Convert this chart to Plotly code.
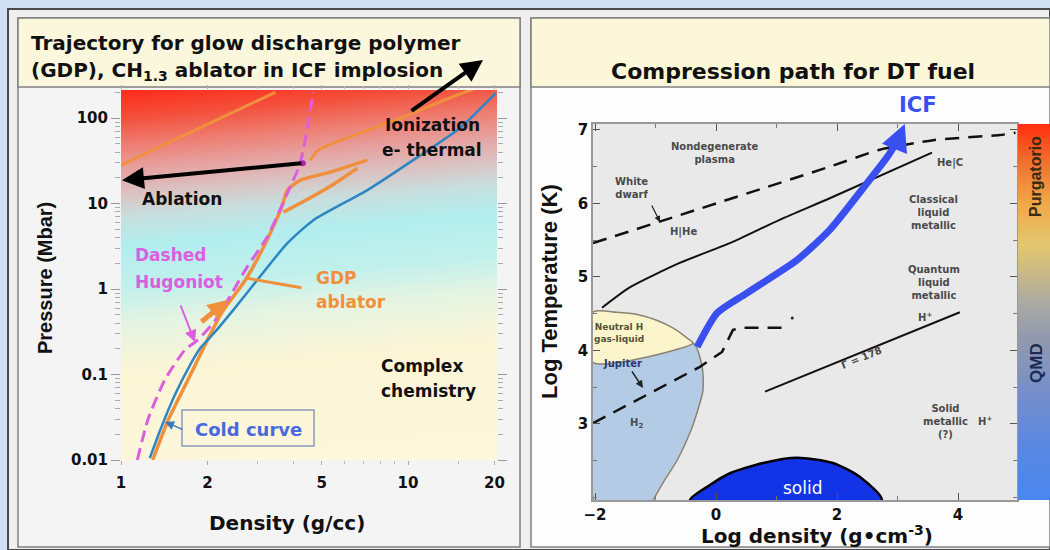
import numpy as np
import plotly.graph_objects as go

W, H = 1050, 550
def px(x): return x / W
def py(y): return 1 - y / H

# ---------------- Left panel data: density (g/cc), pressure (Mbar) ----------------
cold_density = [1.26, 1.37, 1.54, 1.74, 1.89, 2.08, 2.46, 2.98, 3.80, 4.68, 7.22, 10.8, 15.3, 20.2]
cold_pressure = [0.0105, 0.0224, 0.0575, 0.129, 0.204, 0.29, 0.568, 1.27, 3.45, 6.4, 14.4, 35, 78.5, 196]

hugoniot_density = [1.14, 1.24, 1.42, 1.67, 1.84, 2.13, 2.75, 3.23, 3.80, 4.21, 4.68]
hugoniot_pressure = [0.01, 0.0294, 0.0863, 0.194, 0.25, 0.43, 1.81, 4.06, 13.3, 29.8, 201]

gdp_density = [1.29, 1.46, 1.71, 1.96, 2.25, 2.71, 3.10, 3.45, 3.65, 3.80, 4.21, 5.36, 7.22]
gdp_pressure = [0.01, 0.0294, 0.0863, 0.221, 0.538, 1.27, 2.86, 6.08, 9.6, 14.4, 18.8, 23.4, 32.3]
gdp_branch_density = [3.68, 4.21, 5.36, 6.66]
gdp_branch_pressure = [7.96, 10.1, 16.0, 26.0]

ion_left_density = [1.0, 3.45]
ion_left_pressure = [28.2, 201]
ion_right_density = [4.57, 4.87, 9.42, 13.3, 17.2]
ion_right_pressure = [32.3, 42.3, 100, 162, 224]

ablation_point = (4.3, 29.8)      # density, pressure
ablation_tip = (1.008, 18.8)

density_ticks = [1, 2, 5, 10, 20]
pressure_ticks = [0.01, 0.1, 1, 10, 100]
pressure_tick_text = ["0.01", "0.1", "1", "10", "100"]

# ---------------- Right panel data: log density, log temperature ----------------
h2_logrho = [-2.033, -2.033, -0.38, -0.23, -0.215, -0.30, -0.43, -0.64, -0.876, -1.04]
h2_logT = [1.966, 3.84, 4.10, 3.78, 3.46, 3.19, 2.88, 2.51, 2.20, 1.966]

neutral_logrho = [-2.033, -2.033, -1.64, -1.30, -0.98, -0.70, -0.48, -0.38, -2.033]
neutral_logT = [3.84, 4.52, 4.52, 4.49, 4.41, 4.30, 4.17, 4.10, 3.84]

solid_logrho = [-0.43, -0.10, 0.23, 0.78, 1.34, 1.93, 2.38, 2.74, -0.43]
solid_logT = [1.966, 2.17, 2.33, 2.47, 2.54, 2.47, 2.28, 1.966, 1.966]

hhe_line_logrho = [-1.884, -1.42, -0.60, 0.23, 1.06, 1.88, 3.57]
hhe_line_logT = [4.58, 4.86, 5.19, 5.46, 5.78, 6.07, 6.69]

upper_dash_logrho = [-2.033, 1.88, 2.71, 3.59, 4.69, 4.95]
upper_dash_logT = [5.46, 6.50, 6.73, 6.86, 6.93, 6.96]

lower_dash_logrho = [-2.033, -0.26, 0.10, 0.28, 0.45, 1.20]
lower_dash_logT = [3.01, 3.78, 3.98, 4.28, 4.31, 4.31]
lower_dash_dot = (1.26, 4.44)

gamma_logrho = [0.81, 4.03]
gamma_logT = [3.44, 4.52]

icf_logrho = [-0.31, 0.02, 0.51, 1.34, 1.88, 2.50, 2.83, 3.02]
icf_logT = [4.05, 4.51, 4.78, 5.23, 5.64, 6.28, 6.63, 6.88]
icf_tip = (3.12, 7.08)

FONT_H = "DejaVu Sans, Verdana, sans-serif"          # horizontal text (wide)
FONT_V = "Liberation Sans, Arial, sans-serif"        # vertical text
ORANGE = "#f0903c"
PINK = "#dc5ee0"
BLUE_COLD = "#2c86c4"
ICF_BLUE = "#3a4ff0"

fig = go.Figure()

# ---- left gradient background (decorative) ----
lx = np.linspace(0, 1.31, 40)
ly = np.linspace(-2, 2.33, 140)
Z = ly[:, None] - 0.3 * lx[None, :]
stops = [(-2.4, '#fdf7dc'), (-1.0, '#fcf5d6'), (-0.4, '#e4f4e2'), (0.0, '#c2f0ec'),
         (0.5, '#b2eeee'), (0.85, '#c8dede'), (1.1, '#dac4c4'), (1.4, '#e6a2a0'),
         (1.7, '#ee7c70'), (2.0, '#f4503c'), (2.4, '#fe2410')]
zmin, zmax = -2.4, 2.4
cs = [[(v - zmin) / (zmax - zmin), c] for v, c in stops]
fig.add_trace(go.Heatmap(x=lx, y=ly, z=Z, colorscale=cs, zmin=zmin, zmax=zmax,
                         showscale=False, zsmooth='best', hoverinfo='skip',
                         xaxis='x', yaxis='y'))

def lline(xs, ys, color, width, dash='solid'):
    fig.add_trace(go.Scatter(x=xs, y=ys, mode='lines', xaxis='x2', yaxis='y2',
                             line=dict(color=color, width=width, dash=dash, shape='spline', smoothing=0.6),
                             showlegend=False, hoverinfo='skip'))

lline(ion_left_density, ion_left_pressure, ORANGE, 3)
lline(ion_right_density, ion_right_pressure, ORANGE, 3)
lline(gdp_branch_density, gdp_branch_pressure, ORANGE, 3.5)
lline(gdp_density, gdp_pressure, ORANGE, 3.5)
lline(cold_density, cold_pressure, BLUE_COLD, 2.5)
lline(hugoniot_density, hugoniot_pressure, PINK, 3, dash='12px,6px')
fig.add_trace(go.Scatter(x=[ablation_point[0]], y=[ablation_point[1]], mode='markers',
                         xaxis='x2', yaxis='y2', marker=dict(color='#b020b0', size=6),
                         showlegend=False, hoverinfo='skip'))

# ---- right panel ----
def rfill(xs, ys, fill, line_color, lw):
    fig.add_trace(go.Scatter(x=xs, y=ys, mode='lines', fill='toself', fillcolor=fill,
                             xaxis='x3', yaxis='y3',
                             line=dict(color=line_color, width=lw, shape='spline', smoothing=0.7),
                             showlegend=False, hoverinfo='skip'))

rfill(h2_logrho, h2_logT, '#b4cbe6', '#8c8270', 1.5)
rfill(neutral_logrho, neutral_logT, '#fcf5cc', '#8c8270', 1.5)
rfill(solid_logrho, solid_logT, '#1234e6', '#000000', 2.5)

def rline(xs, ys, color, width, dash='solid', shape='spline'):
    fig.add_trace(go.Scatter(x=xs, y=ys, mode='lines', xaxis='x3', yaxis='y3',
                             line=dict(color=color, width=width, dash=dash, shape=shape, smoothing=0.6),
                             showlegend=False, hoverinfo='skip'))

rline(hhe_line_logrho, hhe_line_logT, '#111', 2)
rline(upper_dash_logrho, upper_dash_logT, '#111', 2.5, dash='14px,9px')
rline(lower_dash_logrho, lower_dash_logT, '#111', 2.5, dash='14px,9px', shape='linear')
rline(gamma_logrho, gamma_logT, '#111', 2)
fig.add_trace(go.Scatter(x=[lower_dash_dot[0]], y=[lower_dash_dot[1]], mode='markers',
                         xaxis='x3', yaxis='y3', marker=dict(color='#222', size=3),
                         showlegend=False, hoverinfo='skip'))
rline(icf_logrho, icf_logT, ICF_BLUE, 7)

# ---- colorbar heatmap ----
cy = np.linspace(0, 1, 80)
cz = np.repeat(cy[:, None], 2, axis=1)
cb_scale = [[0, '#4a86f0'], [0.15, '#5a88e0'], [0.3, '#7890c8'], [0.42, '#9098b0'],
            [0.52, '#a8a8a4'], [0.6, '#c8b888'], [0.68, '#e4c670'], [0.79, '#f0a848'],
            [0.9, '#f07030'], [1.0, '#ff3010']]
fig.add_trace(go.Heatmap(x=[0, 1], y=cy, z=cz, colorscale=cb_scale, showscale=False,
                         zsmooth='best', hoverinfo='skip', xaxis='x4', yaxis='y4'))

# ---------------- shapes ----------------
def prect(x0, y0, x1, y1, fill, line='#808080', lw=1.5, layer='below'):
    return dict(type='rect', xref='paper', yref='paper', x0=px(x0), x1=px(x1),
                y0=py(y1), y1=py(y0), fillcolor=fill, line=dict(color=line, width=lw), layer=layer)

shapes = [
    prect(8, 9, 1050, 550, '#efefef', '#4a4a4a', 2),
    prect(18, 18, 520, 547, '#f4f4f4'),
    prect(18, 18, 520, 87, '#fbf7dc'),
    prect(531, 18, 1050, 547, '#fdfdfd'),
    prect(531, 18, 1050, 87, '#fbf7d8'),
    prect(182, 410, 314, 446, 'rgba(0,0,0,0)', '#8a98b8', 1.5, layer='above'),
    dict(type='rect', xref='x3 domain', yref='y3 domain', x0=0, x1=1, y0=0, y1=1,
         fillcolor='#e9e9e9', line=dict(width=0), layer='below'),
]

# ---------------- annotations ----------------
ann = []
def txt(x, y, s, size, color='#111', xanchor='center', angle=0, xref='paper', yref='paper',
        bold=True, family=FONT_H):
    ann.append(dict(x=x, y=y, xref=xref, yref=yref, text=s, showarrow=False, xanchor=xanchor,
                    yanchor='middle', textangle=angle,
                    font=dict(family=family, size=size, color=color, weight='bold' if bold else 'normal')))

def arrow(x, y, ax, ay, color, width, head=2, size=1.0, xref='paper', yref='paper'):
    ann.append(dict(x=x, y=y, xref=xref, yref=yref, ax=ax, ay=ay, axref='pixel', ayref='pixel',
                    text='', showarrow=True, arrowhead=head, arrowsize=size,
                    arrowwidth=width, arrowcolor=color))

# left titles & labels
txt(px(29), py(43), "Trajectory for glow discharge polymer", 20, xanchor='left')
txt(px(29), py(71), "(GDP), CH<sub>1.3</sub> ablator in ICF implosion", 20, xanchor='left')
txt(px(432), py(125), "Ionization", 17)
txt(px(432), py(150), "e- thermal", 17)
txt(px(182), py(199), "Ablation", 17)
txt(px(133), py(255), "Dashed", 17, PINK, xanchor='left')
txt(px(133), py(282), "Hugoniot", 17, PINK, xanchor='left')
txt(px(314), py(278), "GDP", 17, ORANGE, xanchor='left')
txt(px(314), py(302), "ablator", 17, ORANGE, xanchor='left')
txt(px(379), py(366), "Complex", 17, xanchor='left')
txt(px(379), py(391), "chemistry", 17, xanchor='left')
txt(px(248), py(429), "Cold curve", 18, '#4a68e0')
txt(px(45), py(278), "Pressure (Mbar)", 20, angle=-90, family=FONT_V)
txt(px(287), py(523), "Density (g/cc)", 20)

# left arrows
ann.append(dict(x=np.log10(ablation_tip[0]), y=np.log10(ablation_tip[1]), xref='x2', yref='y2',
                ax=np.log10(ablation_point[0]), ay=np.log10(ablation_point[1]), axref='x2', ayref='y2',
                text='', showarrow=True, arrowhead=2, arrowsize=1.1, arrowwidth=4, arrowcolor='#000'))
arrow(px(483), py(60), -73, 52, '#000', 4, head=2, size=1.1)
arrow(px(195), py(342), -15, -38, PINK, 2, head=2, size=1.2)
arrow(px(246), py(278), 57, 10, ORANGE, 3, head=0)
arrow(px(228), py(300), -28, 23, ORANGE, 5, head=2, size=0.8)
arrow(px(165), py(422), 19, 8, '#3a7ac0', 1.5, head=2, size=1.2)

# right titles & labels
txt(px(793), py(72), "Compression path for DT fuel", 22)
txt(px(918), py(105), "ICF", 21, ICF_BLUE)
txt(px(549), py(292), "Log Temperature (K)", 22, angle=-90, family=FONT_V)
txt(px(817), py(535), "Log density (g•cm<sup>-3</sup>)", 20)
txt(px(1036), py(177), "Purgatorio", 16, '#3a2a10', angle=-90, family=FONT_V)
txt(px(1036), py(363), "QMD", 17, '#1a2a50', angle=-90, family=FONT_V)

small = '#4a4a4a'
for s, x, y in [("Nondegenerate<br>plasma", -0.017, 6.68), ("White<br>dwarf", -1.39, 6.21),
                ("H|He", -0.545, 5.61), ("He|C", 3.87, 6.55),
                ("Classical<br>liquid<br>metallic", 3.6, 5.87),
                ("Quantum<br>liquid<br>metallic", 3.6, 4.93), ("H<sup>+</sup>", 3.45, 4.46),
                ("Solid<br>metallic<br>(?)", 3.79, 3.04), ("H<sup>+</sup>", 4.45, 3.04),
                ("H<sub>2</sub>", -1.32, 3.0)]:
    txt(x, y, s, 10, small, xref='x3', yref='y3')
txt(-1.6, 4.24, "Neutral H<br>gas-liquid", 9, '#55503a', xref='x3', yref='y3')
txt(-1.55, 3.82, "Jupiter", 10, '#2a3a70', xref='x3', yref='y3')
txt(2.41, 3.91, "Γ = 178", 10, small, angle=-22, xref='x3', yref='y3')
txt(1.44, 2.13, "solid", 17, '#ffffff', xref='x3', yref='y3', bold=False)
arrow(px(660), py(222), -9, -18, '#222', 1.2, head=2)
arrow(px(643), py(388), -12, -18, '#222', 1.5, head=2)
ann.append(dict(x=icf_tip[0], y=icf_tip[1], xref='x3', yref='y3',
                ax=icf_logrho[-1], ay=icf_logT[-1], axref='x3', ayref='y3',
                text='', showarrow=True, arrowhead=2, arrowsize=0.9, arrowwidth=6, arrowcolor=ICF_BLUE))

tickfont = dict(family=FONT_H, size=15, color='#111', weight='bold')
L_dom_x = [px(121), px(497)]
L_dom_y = [py(460), py(90)]
R_dom_x = [px(593), px(1017)]
R_dom_y = [py(500), py(124)]

minor_p = [m * 10.0 ** e for e in range(-2, 3) for m in range(2, 10)]
minor_d = [3, 4, 6, 7, 8, 9, 15]

fig.update_layout(
    template='none',
    width=W, height=H, margin=dict(l=0, r=0, t=0, b=0, autoexpand=False),
    paper_bgcolor='#cfe0f2', plot_bgcolor='rgba(0,0,0,0)', showlegend=False,
    xaxis=dict(domain=L_dom_x, range=[0, 1.31], visible=False, fixedrange=True, automargin=False),
    yaxis=dict(domain=L_dom_y, range=[-2, 2.33], visible=False, fixedrange=True, automargin=False),
    xaxis2=dict(overlaying='x', type='log', range=[0, 1.31], anchor='y2', side='bottom',
                domain=L_dom_x, tickvals=density_ticks, ticktext=[str(v) for v in density_ticks],
                ticks='outside', ticklen=4, tickcolor='#aaa', mirror='ticks', showline=False,
                showgrid=False, zeroline=False, tickfont=tickfont, ticklabelstandoff=5, automargin=False,
                minor=dict(tickvals=minor_d, ticks='outside', ticklen=3, tickcolor='#bbb', showgrid=False)),
    yaxis2=dict(overlaying='y', type='log', range=[-2, 2.33], anchor='x2', side='left',
                domain=L_dom_y, tickvals=pressure_ticks, ticktext=pressure_tick_text,
                ticks='outside', ticklen=9, tickcolor='#999', mirror='ticks', showline=False,
                showgrid=False, zeroline=False, tickfont=tickfont, automargin=False,
                minor=dict(tickvals=minor_p, ticks='outside', ticklen=5, tickcolor='#aaa', showgrid=False)),
    xaxis3=dict(domain=R_dom_x, range=[-2.033, 4.975], anchor='y3', tickvals=[-2, 0, 2, 4],
                ticks='inside', ticklen=7, tickcolor='#555', showline=True, linecolor='#999',
                linewidth=1.5, mirror='ticks', showgrid=False, zeroline=False, tickfont=tickfont,
                automargin=False,
                minor=dict(dtick=1, ticks='inside', ticklen=4, tickcolor='#777', showgrid=False)),
    yaxis3=dict(domain=R_dom_y, range=[1.966, 7.08], anchor='x3', tickvals=[3, 4, 5, 6, 7],
                ticks='inside', ticklen=7, tickcolor='#555', showline=True, linecolor='#999',
                linewidth=1.5, mirror='ticks', showgrid=False, zeroline=False, tickfont=tickfont,
                automargin=False,
                minor=dict(dtick=0.5, ticks='inside', ticklen=4, tickcolor='#777', showgrid=False)),
    xaxis4=dict(domain=[px(1018), 1], range=[0, 1], anchor='y4', visible=False, automargin=False),
    yaxis4=dict(domain=R_dom_y, range=[0, 1], anchor='x4', visible=False, automargin=False),
    shapes=shapes, annotations=ann,
)

fig.write_html("out.html", config={'displayModeBar': False},
               post_script="document.body.style.margin='0';document.body.style.overflow='hidden';")
